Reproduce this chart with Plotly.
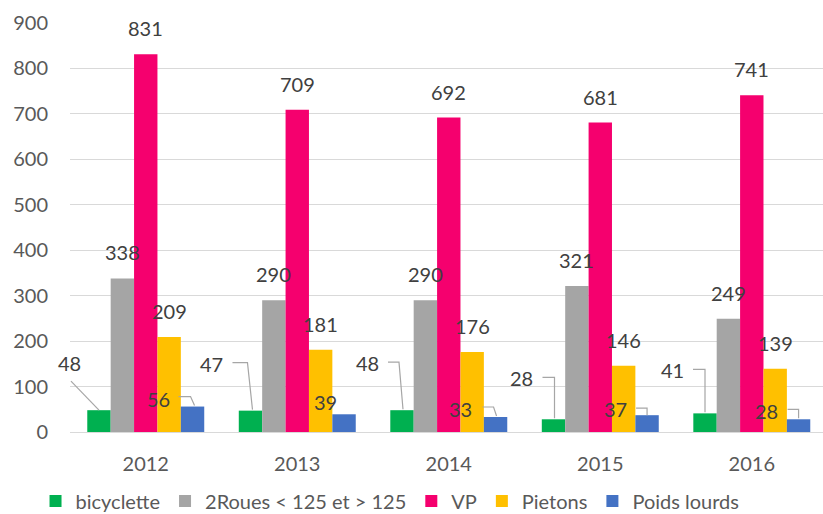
import plotly.graph_objects as go

years = ["2012", "2013", "2014", "2015", "2016"]
bicyclette = [48, 47, 48, 28, 41]
deux_roues = [338, 290, 290, 321, 249]
vp = [831, 709, 692, 681, 741]
pietons = [209, 181, 176, 146, 139]
poids_lourds = [56, 39, 33, 37, 28]

series = [
    ("bicyclette", bicyclette, "#00B050"),
    ("2Roues < 125 et > 125", deux_roues, "#A5A5A5"),
    ("VP", vp, "#F5006E"),
    ("Pietons", pietons, "#FFC000"),
    ("Poids lourds", poids_lourds, "#4472C4"),
]

# layout / style settings
BARGAP = 0.228
NS = len(series)
BW = (1 - BARGAP) / NS
FONT = "Lato"
LABEL_COLOR = "#404040"
TICK_COLOR = "#595959"
LEADER_COLOR = "#A6A6A6"
FS = 20

# manual label offsets (pixels, dx, dy-up) for small-bar series
bike_label_off = [(-29, 47), (-39, 47), (-34, 47), (-32, 41), (-33, 43)]
bike_leader = [
    "M-28,29 L0,0",
    "M-18,48 L-3,48 L2,1",
    "M-14,48 L-3,48 L1,1",
    "M-11,42 L1,42 L1,1",
    "M-12,44 L0,44 L0,1",
]
pl_label_off = [(-34, 8), (-19, 12), (-35, 8), (-32, 6), (-32, 8)]
pl_leader = [
    "M-14,10 L-2,10 L2,1",
    None,
    "M-13,10 L-2,10 L1,1",
    "M-11,7 L0,7 L0,0",
    "M-11,10 L0,10 L0,1",
]

fig = go.Figure()
for name, vals, col in series:
    fig.add_trace(go.Bar(
        x=years, y=vals, name=name,
        marker=dict(color=col, line=dict(width=0)),
    ))

annotations = []
shapes = []
for k, (name, vals, col) in enumerate(series):
    off = (k - (NS - 1) / 2) * BW
    for i, v in enumerate(vals):
        xpos = i + off
        if k == 0:
            dx, dy = bike_label_off[i]
            path = bike_leader[i]
        elif k == NS - 1:
            dx, dy = pl_label_off[i]
            path = pl_leader[i]
        else:
            dx, dy = 0, 26
            path = None
        annotations.append(dict(
            x=xpos, y=v, xref="x", yref="y", text=str(v), showarrow=False,
            xshift=dx, yshift=dy, xanchor="center", yanchor="middle",
            font=dict(family=FONT, size=FS, color=LABEL_COLOR),
        ))
        if path:
            shapes.append(dict(
                type="path", xref="x", yref="y",
                xsizemode="pixel", ysizemode="pixel",
                xanchor=xpos, yanchor=v, path=path,
                line=dict(color=LEADER_COLOR, width=1.2),
            ))

fig.update_layout(
    width=823, height=514,
    margin=dict(l=70, r=0, t=23, b=82, autoexpand=False),
    paper_bgcolor="white", plot_bgcolor="white",
    barmode="group", bargap=BARGAP, bargroupgap=0,
    font=dict(family=FONT, size=FS, color=TICK_COLOR),
    xaxis=dict(
        type="category", range=[-0.5, 4.47],
        showgrid=False, showline=False, ticks="",
        ticklabelstandoff=18, automargin=False,
        tickfont=dict(family=FONT, size=FS, color=TICK_COLOR),
    ),
    yaxis=dict(
        range=[0, 900], dtick=100, showgrid=True, gridcolor="#D9D9D9",
        gridwidth=1, zeroline=True, zerolinecolor="#D9D9D9", zerolinewidth=1,
        showline=False, ticks="", ticklabelstandoff=21, automargin=False,
        tickfont=dict(family=FONT, size=FS, color=TICK_COLOR),
    ),
    legend=dict(
        orientation="h", x=0.425, xanchor="center",
        y=-0.169, yanchor="middle",
        font=dict(family=FONT, size=FS, color=TICK_COLOR),
        itemwidth=30, tracegroupgap=0,
    ),
    annotations=annotations,
    shapes=shapes,
    showlegend=True,
)

fig.write_html(
    "out.html",
    config={"displayModeBar": False},
    post_script="document.body.style.margin='0';document.body.style.overflow='hidden';",
)
